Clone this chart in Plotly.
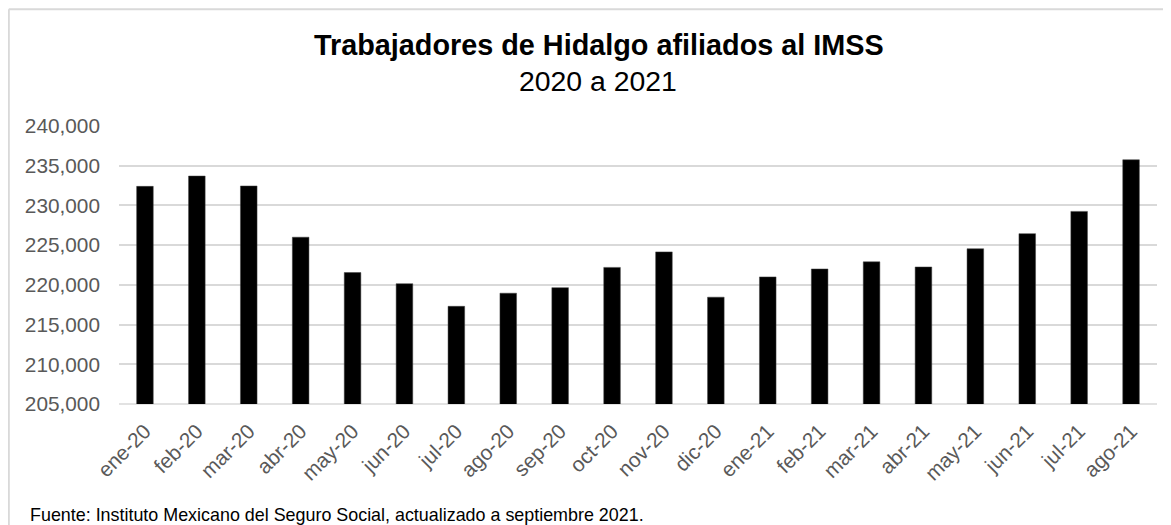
import plotly.graph_objects as go

categories = ["ene-20", "feb-20", "mar-20", "abr-20", "may-20", "jun-20", "jul-20",
              "ago-20", "sep-20", "oct-20", "nov-20", "dic-20", "ene-21", "feb-21",
              "mar-21", "abr-21", "may-21", "jun-21", "jul-21", "ago-21"]
trabajadores = [232400, 233700, 232450, 226000, 221550, 220150, 217300,
                218950, 219650, 222200, 224150, 218450, 221000, 222000,
                222900, 222250, 224550, 226450, 229250, 235750]
y_ticks = [205000, 210000, 215000, 220000, 225000, 230000, 235000, 240000]

title_main = "Trabajadores de Hidalgo afiliados al IMSS"
title_sub = "2020 a 2021"
fuente = "Fuente: Instituto Mexicano del Seguro Social, actualizado a septiembre 2021."

# figure sits at an 8px page offset
W, H = 1163, 517
L, R = 111, 1149
T, B = 118, 396.3


def px(x):
    return (x - L) / (R - L)


def py(y):
    return (B - y) / (B - T)


fig = go.Figure()
fig.add_trace(go.Bar(
    x=categories, y=trabajadores,
    marker=dict(color="#000000", line=dict(color="#404040", width=0.5)),
    hoverinfo="x+y",
))

fig.update_layout(
    width=W, height=H,
    margin=dict(l=L, r=W - R, t=T, b=H - B, pad=0),
    paper_bgcolor="white", plot_bgcolor="white",
    bargap=0.68,
    showlegend=False,
    font=dict(family="Liberation Sans, Arial, sans-serif", color="#595959"),
    xaxis=dict(
        type="category", tickangle=-45, tickfont=dict(size=20.8, color="#595959"),
        showgrid=False, showline=False, ticks="", zeroline=False,
        ticklabelstandoff=10,
    ),
    yaxis=dict(
        range=[205000, 240000], tickvals=y_ticks,
        tickformat=",", tickfont=dict(size=20.8, color="#595959"),
        showgrid=True, gridcolor="#d9d9d9", gridwidth=1.5,
        zeroline=False, showline=False, ticks="", ticklabelstandoff=18,
    ),
    shapes=[
        dict(type="line", xref="paper", yref="paper",
             x0=px(0.8), x1=px(1200), y0=py(1), y1=py(1),
             line=dict(color="#d9d9d9", width=2)),
        dict(type="line", xref="paper", yref="paper",
             x0=px(0.8), x1=px(0.8), y0=py(1), y1=py(560),
             line=dict(color="#d9d9d9", width=2)),
        dict(type="line", xref="paper", yref="paper",
             x0=0, x1=1, y0=0, y1=0, layer="below",
             line=dict(color="#d9d9d9", width=1.5)),
    ],
    annotations=[
        dict(text="<b>" + title_main + "</b>", xref="paper", yref="paper",
             x=px(590.5), y=py(37), xanchor="center", yanchor="middle",
             showarrow=False, font=dict(size=28.8, color="#000000")),
        dict(text=title_sub, xref="paper", yref="paper",
             x=px(590.3), y=py(72.7), xanchor="center", yanchor="middle",
             showarrow=False, font=dict(size=28.4, color="#000000")),
        dict(text=fuente, xref="paper", yref="paper",
             x=px(20), y=py(507.3), xanchor="left", yanchor="middle",
             showarrow=False, font=dict(size=17.9, color="#000000")),
    ],
)

fig.write_html("out.html")
